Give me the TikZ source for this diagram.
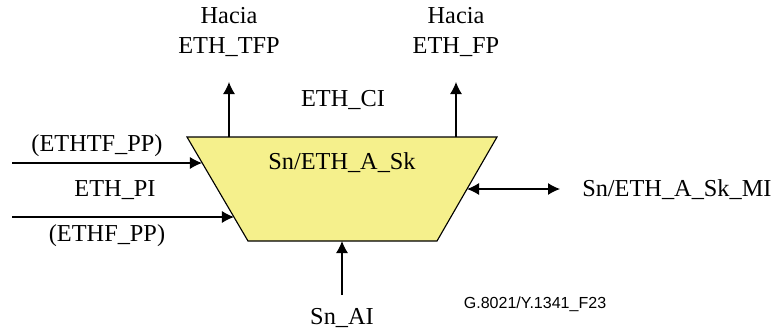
\documentclass[tikz,border=0pt]{standalone}
\usepackage{fontspec}
\setmainfont{Liberation Serif}
\newfontfamily\labelsans{Liberation Sans}
\usepackage{tikz}
\usetikzlibrary{arrows.meta,positioning,calc}
\definecolor{sinkyellow}{RGB}{245,240,140}

\begin{document}
\begin{tikzpicture}[
  x=0.025cm, y=-0.025cm,
  lbl/.style={inner sep=0pt, align=center, font=\fontsize{17.3}{21}\selectfont},
  arr/.style={-{Latex[length=0.3cm, width=0.3cm]}, line width=0.8pt},
  darr/.style={{Latex[length=0.3cm, width=0.3cm]}-{Latex[length=0.3cm, width=0.3cm]}, line width=0.8pt}
]
\useasboundingbox (0,0) rectangle (784,331);

% adaptation sink function
\draw[line width=0.8pt, fill=sinkyellow] (187,137) -- (497,137) -- (437,241) -- (248,241) -- cycle;
\node[lbl] (sk) at (342,163) {Sn/ETH\_A\_Sk};
\coordinate (tfp) at (229,137);
\coordinate (fp) at (456,137);
\coordinate (pa) at (202,163);
\coordinate (pb) at (234,217);
\coordinate (mi) at (467,189);
\coordinate (ai) at (342,241);

\node[lbl] (hacia1) at (229,32) {Hacia\\ETH\_TFP};
\node[lbl] (hacia2) at (456,32) {Hacia\\ETH\_FP};
\node[lbl] (ci) at (343,100) {ETH\_CI};
\node[lbl] (tfpp) at (97,146) {(ETHTF\_PP)};
\node[lbl] (pi) at (115,190) {ETH\_PI};
\node[lbl] (fpp) at (107,236) {(ETHF\_PP)};
\node[lbl, anchor=west] (mgmt) at (582,190) {Sn/ETH\_A\_Sk\_MI};
\node[lbl] (sai) at (342,318) {Sn\_AI};
\node[inner sep=0pt, font=\labelsans\fontsize{11.4}{13}\selectfont] (fig) at (535,304) {G.8021/Y.1341\_F23};

% free ends of the connectors
\coordinate (tfpend) at (229,82);
\coordinate (fpend) at (456,82);
\coordinate (ina) at (12,163);
\coordinate (inb) at (12,217);
\coordinate (mgmtend) at (560,189);
\coordinate (aistart) at (342,295);

\draw[arr] (tfp) -- (tfpend);
\draw[arr] (fp) -- (fpend);
\draw[arr] (ina) -- (pa);
\draw[arr] (inb) -- (pb);
\draw[darr] (mi) -- (mgmtend);
\draw[arr] (aistart) -- (ai);
\end{tikzpicture}
\end{document}
